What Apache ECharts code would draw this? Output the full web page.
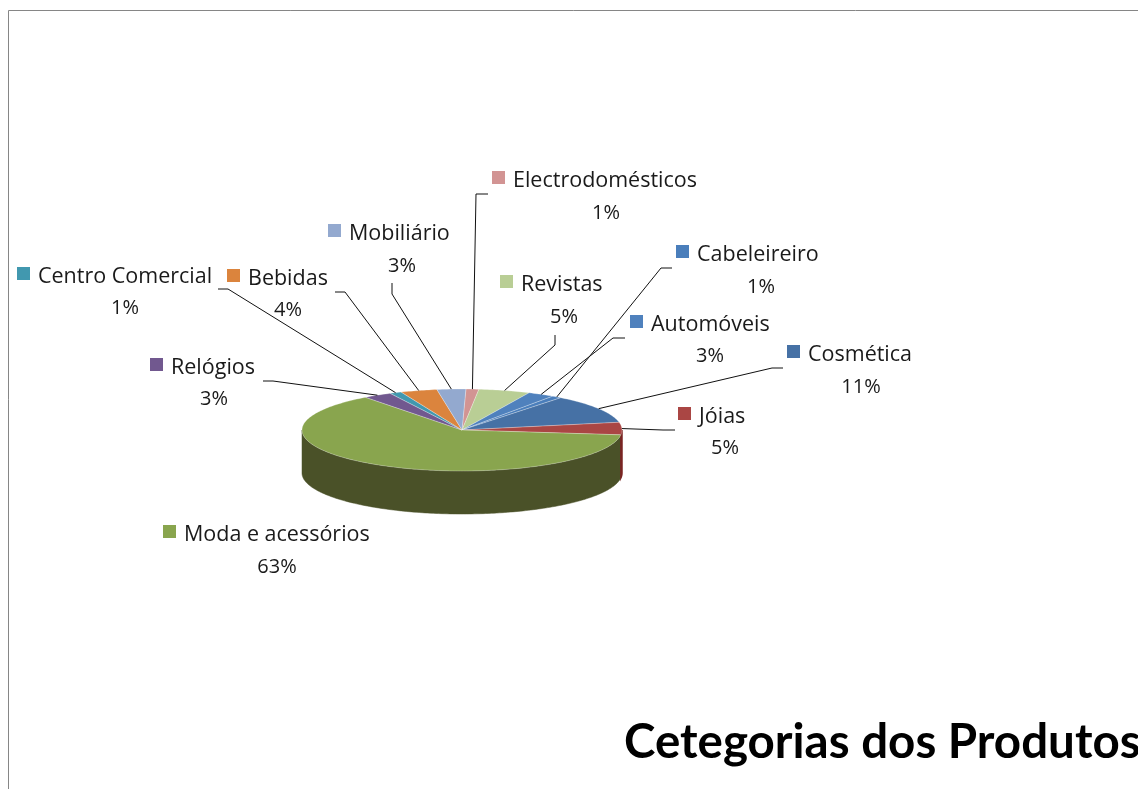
<!DOCTYPE html>
<html>
<head>
<meta charset="utf-8">
<title>Cetegorias dos Produtos</title>
<style>
  html, body { margin: 0; padding: 0; background: #fff; }
  #chart { width: 1138px; height: 789px; }
</style>
<script src="https://cdn.jsdelivr.net/npm/echarts@6/dist/echarts.min.js"></script>
</head>
<body>
<div id="chart"></div>
<script>
// dados lidos da imagem, no sentido dos ponteiros a partir do topo
const categories = ['Electrodomésticos', 'Revistas', 'Automóveis', 'Cabeleireiro', 'Cosmética', 'Jóias',
  'Moda e acessórios', 'Relógios', 'Centro Comercial', 'Bebidas', 'Mobiliário'];
const shares = [1.3, 5.2, 2.7, 1.0, 11.4, 4.9, 62.8, 2.9, 1.2, 3.7, 2.9];
const topColors = ['#D29493', '#B9CE95', '#4F81BD', '#4A7EBB', '#4671A5', '#AA4644',
  '#89A54E', '#71588F', '#4198AF', '#DB843D', '#93A9CF'];
const sideColors = ['#7d5655', '#6d7a57', '#2e4c70', '#2c4a6e', '#293f5e', '#7a2422',
  '#4A5128', '#43345a', '#265a68', '#824e24', '#57647a'];
const chartTitle = 'Cetegorias dos Produtos';

// posicao das etiquetas: quadrado da legenda, nome, percentagem, e a linha de chamada
const keyPos = [[492, 171], [500, 275], [630, 315], [676, 245], [787, 345], [678, 407],
  [163, 525], [150, 358], [17, 267], [227, 269], [328, 224]];
const pctPos = [[606, 212], [564, 316], [710, 355], [761, 286], [861, 386], [725, 447],
  [277, 566], [214, 398], [125, 307], [288, 309], [402, 265]];
const leaderPos = [
  [[488, 194], [476, 194]],
  [[555, 335], [555, 345]],
  [[625, 338], [613, 338]],
  [[672, 268], [661, 268]],
  [[783, 368], [772, 368]],
  [[675, 430], [663, 430]],
  null,
  [[263, 381], [273, 381]],
  [[218, 289], [228, 289]],
  [[335, 292], [345, 292]],
  [[392, 283], [392, 294]]
];

const cx = 462, cy = 430, rx = 160, ry = 41, depth = 43;
const startAngle = 1.4;
const labelFont = '"Open Sans"';
const titleFont = 'Lato';
const total = shares.reduce((a, b) => a + b, 0);

const rad = d => d * Math.PI / 180;
const rim = (deg, dy) => [cx + rx * Math.sin(rad(deg)), cy - ry * Math.cos(rad(deg)) + (dy || 0)];

// angulos de inicio e fim de cada fatia
const sliceAngles = [];
let acc = startAngle;
shares.forEach(v => {
  const sweep = v / total * 360;
  sliceAngles.push([acc, acc + sweep]);
  acc += sweep;
});

function arcPoints(a0, a1, dy) {
  const pts = [];
  const n = Math.max(2, Math.ceil(Math.abs(a1 - a0)));
  for (let i = 0; i <= n; i++) pts.push(rim(a0 + (a1 - a0) * i / n, dy));
  return pts;
}

const seriesData = shares.map((v, i) => ({ name: categories[i], value: [v, i] }));

function renderSide(params, api) {
  const i = api.value(1);
  const a0 = Math.max(sliceAngles[i][0], 90);
  const a1 = Math.min(sliceAngles[i][1], 270);
  if (a1 <= a0) return;
  return {
    type: 'polygon',
    // a faixa estreita das Joias fica por cima para se ver na borda
    z2: a1 - a0 < 10 ? 1 : 0,
    shape: { points: arcPoints(a0, a1, 0).concat(arcPoints(a1, a0, depth)) },
    style: { fill: sideColors[i], stroke: sideColors[i], lineWidth: a1 - a0 < 10 ? 1.5 : 0.5 }
  };
}

function renderTop(params, api) {
  const i = api.value(1);
  return {
    type: 'polygon',
    shape: { points: [[cx, cy]].concat(arcPoints(sliceAngles[i][0], sliceAngles[i][1], 0)) },
    style: { fill: topColors[i], stroke: 'rgba(255,255,255,0.45)', lineWidth: 0.6 }
  };
}

function renderLabel(params, api) {
  const i = api.value(1);
  const key = keyPos[i], pct = pctPos[i];
  const children = [
    { type: 'rect', shape: { x: key[0], y: key[1], width: 13, height: 13 }, style: { fill: topColors[i] } },
    { type: 'text', style: { text: categories[i], x: key[0] + 21, y: key[1] + 10, fill: '#1a1a1a',
        font: '21.5px ' + labelFont, align: 'left', verticalAlign: 'middle' } },
    { type: 'text', style: { text: Math.round(api.value(0) / total * 100) + '%', x: pct[0], y: pct[1] + 1, fill: '#1a1a1a',
        font: '20px ' + labelFont, align: 'center', verticalAlign: 'middle' } }
  ];
  if (leaderPos[i]) {
    const mid = (sliceAngles[i][0] + sliceAngles[i][1]) / 2;
    children.push({
      type: 'polyline',
      shape: { points: leaderPos[i].concat([rim(mid)]) },
      style: { fill: 'none', stroke: '#111', lineWidth: 1 }
    });
  }
  return { type: 'group', children };
}

const chart = echarts.init(document.getElementById('chart'), null, { renderer: 'canvas' });
chart.setOption({
  animation: false,
  backgroundColor: '#fff',
  title: {
    text: chartTitle,
    left: 619,
    top: 714,
    textStyle: { fontFamily: titleFont, fontWeight: 'bold', fontSize: 47.5, color: '#000' }
  },
  graphic: [
    { type: 'polyline', silent: true, shape: { points: [[8.5, 789], [8.5, 10.5], [1138, 10.5]] },
      style: { fill: 'none', stroke: '#868686', lineWidth: 1 } }
  ],
  series: [
    { type: 'custom', coordinateSystem: 'none', silent: true, z: 2, data: seriesData, renderItem: renderSide },
    { type: 'custom', coordinateSystem: 'none', silent: true, z: 3, data: seriesData, renderItem: renderTop },
    { type: 'custom', coordinateSystem: 'none', silent: true, z: 4, data: seriesData, renderItem: renderLabel }
  ]
});
window.addEventListener('resize', () => chart.resize());
</script>
</body>
</html>
